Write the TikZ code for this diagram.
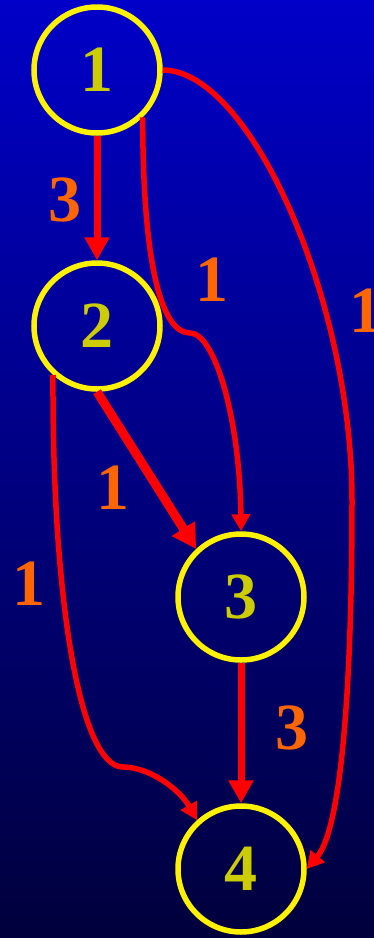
\documentclass[tikz,border=0pt]{standalone}
\usepackage{fontspec}
\setmainfont{Liberation Serif}
\usetikzlibrary{arrows.meta}

\definecolor{bgtop}{RGB}{0,0,200}
\definecolor{bgbottom}{RGB}{0,0,60}
\definecolor{numcol}{RGB}{204,204,0}
\definecolor{wcol}{RGB}{255,102,0}

\begin{document}
\begin{tikzpicture}[x=1pt, y=-1pt,
	every node/.style={font=\fontsize{66}{66}\selectfont\bfseries},
	vertex/.style={circle, draw=yellow, line width=5.5pt, minimum size=126pt, inner sep=0pt, text=numcol},
	weight/.style={text=wcol},
	bigtip/.style={-{Triangle[length=23pt,width=24pt]}},
	smalltip/.style={-{Triangle[length=17pt,width=18pt]}}]
	\useasboundingbox (0,0) rectangle (374,938);
	\shade[top color=bgtop, bottom color=bgbottom] (0,0) rectangle (374,938);
	\node[vertex] (n1) at (97,70) {1};
	\node[vertex] (n2) at (97,326) {2};
	\node[vertex] (n3) at (241,597) {3};
	\node[vertex] (n4) at (241,869) {4};
	\draw[red, line width=7pt, bigtip] (n1) -- (n2);
	\draw[red, line width=9pt, -{Triangle[length=24pt,width=26pt]}] (n2.south) -- (n3.133);
	\draw[red, line width=7pt, bigtip] (n3) -- (n4);
	\draw[red, line width=5.5pt, smalltip] (n1.-46) .. controls (143,280) and (165,333) .. (190,333)
		.. controls (215,333) and (240,420) .. (n3.north);
	\draw[red, line width=5.5pt, smalltip] (n1.east) .. controls (250,70) and (352,300) .. (352,500)
		.. controls (352,700) and (340,830) .. (n4.east);
	\draw[red, line width=5.5pt, smalltip] (n2.-132) .. controls (52,600) and (80,767) .. (123,767)
		.. controls (150,767) and (180,790) .. (n4.132);
	\node[weight] (w12) at (65,200) {3};
	\node[weight] (w13) at (212,280) {1};
	\node[weight] (w14) at (366,311) {1};
	\node[weight] (w23) at (113,488) {1};
	\node[weight] (w24) at (29,584) {1};
	\node[weight] (w34) at (292,728) {3};
\end{tikzpicture}
\end{document}
